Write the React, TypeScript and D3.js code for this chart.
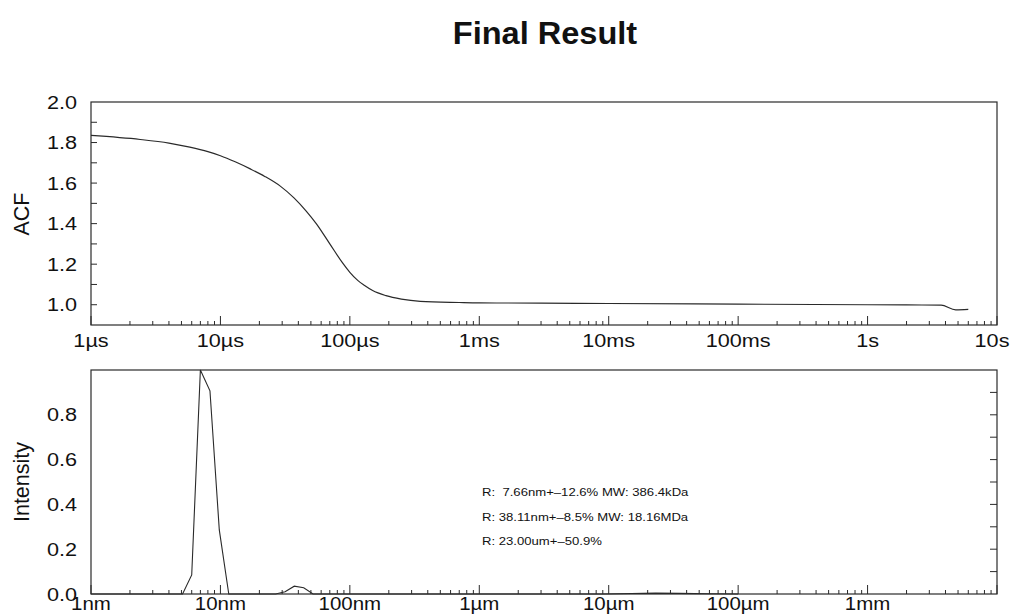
import React from 'react';
import * as d3 from 'd3';

// correlation function, lag time in µs
const ACF_TIME_US = [1, 2.4, 4, 5.8, 8, 10, 13, 17, 22, 29, 37, 46, 55, 70, 87, 100, 115, 130, 150, 190, 250, 350, 700, 1000, 3000, 1e4, 1e5, 1e6, 2e6, 3.7e6, 4.8e6, 6e6];
const ACF_VALUES = [1.835, 1.815, 1.797, 1.777, 1.755, 1.735, 1.705, 1.67, 1.633, 1.585, 1.527, 1.462, 1.4, 1.3, 1.21, 1.16, 1.12, 1.095, 1.07, 1.045, 1.028, 1.017, 1.011, 1.009, 1.008, 1.006, 1.003, 1.0, 0.999, 0.998, 0.975, 0.977];

// size distribution, radius in nm
const SIZE_NM = [1, 4.3, 5.1, 6.0, 7.0, 8.3, 9.8, 11.6, 13.7, 26.7, 31.6, 37.2, 44, 51.9, 61, 9000, 15000, 23000, 35000, 60000, 1e5];
const INTENSITY = [0, 0, 0, 0.085, 1.0, 0.907, 0.286, 0, 0, 0, 0.01, 0.035, 0.028, 0, 0, 0, 0.002, 0.004, 0.003, 0.001, 0];

const TIME_TICK_LABELS = ['1µs', '10µs', '100µs', '1ms', '10ms', '100ms', '1s', '10s'];
const SIZE_TICK_LABELS = ['1nm', '10nm', '100nm', '1µm', '10µm', '100µm', '1mm'];
const ACF_TICKS = [1.0, 1.2, 1.4, 1.6, 1.8, 2.0];
const INTENSITY_TICKS = [0, 0.2, 0.4, 0.6, 0.8];
const ANNOTATIONS = [
  'R:  7.66nm+\u201312.6% MW: 386.4kDa',
  'R: 38.11nm+\u20138.5% MW: 18.16MDa',
  'R: 23.00um+\u201350.9%',
];

const FONT = '"Liberation Sans", Arial, Helvetica, sans-serif';
const INK = '#2a2a2a';
const W = 1011;
const H = 616;
const L = 91;
const R = 997;

function SText({ x, y, size, stretch = 1.17, anchor = 'middle', weight = 'normal', children }: any) {
  return (
    <text
      transform={`translate(${x},${y}) scale(${stretch},1)`}
      fontSize={size}
      fontWeight={weight}
      textAnchor={anchor}
      fontFamily={FONT}
      fill="#111"
      style={{ whiteSpace: 'pre' }}
    >
      {children}
    </text>
  );
}

function logTicks(scale: any) {
  const [a, b] = scale.domain();
  return scale.ticks().filter((t: number) => t >= a && t <= b * 1.0001).map((t: number) => ({
    v: t,
    major: Math.abs(Math.log10(t) - Math.round(Math.log10(t))) < 1e-6,
  }));
}

export default function App() {
  // top panel
  const xT = d3.scaleLog().domain([1, 1e7]).range([L, R]);
  const yT = d3.scaleLinear().domain([0.9, 2.0]).range([325, 102]);
  // bottom panel
  const xB = d3.scaleLog().domain([1, 1e7]).range([L, R]);
  const yB = d3.scaleLinear().domain([0, 1]).range([594, 370]);

  const acfLine = d3
    .line<number>()
    .x((_, i) => xT(ACF_TIME_US[i]))
    .y((d) => yT(d))
    .curve(d3.curveMonotoneX);
  const distLine = d3
    .line<number>()
    .x((_, i) => xB(SIZE_NM[i]))
    .y((d) => yB(d));

  const acfMinor = d3.range(1.0, 2.0, 0.1).map((v) => +v.toFixed(1));
  const intRight = d3.range(1, 10).map((k) => k / 10);

  return (
    <svg width={W} height={H} style={{ position: 'absolute', left: 0, top: 0, background: '#fff' }}>
      <SText x={545} y={44} size={31} weight="bold" stretch={1.05}>Final Result</SText>

      {/* ---- ACF panel ---- */}
      <rect x={L} y={102} width={R - L} height={325 - 102} fill="none" stroke={INK} strokeWidth={1.2} />
      {logTicks(xT).map((t: any) => (
        <line key={'tt' + t.v} x1={xT(t.v)} x2={xT(t.v)} y1={325} y2={325 - (t.major ? 9 : 4)} stroke={INK} strokeWidth={1} />
      ))}
      {acfMinor.map((v) => (
        <line key={'ay' + v} x1={L} x2={L + 6} y1={yT(v)} y2={yT(v)} stroke={INK} strokeWidth={1} />
      ))}
      {ACF_TICKS.map((v) => (
        <SText key={'al' + v} x={77} y={yT(v) + 6.5} size={18.5} anchor="end">{v.toFixed(1)}</SText>
      ))}
      {TIME_TICK_LABELS.map((s, i) => (
        <SText key={s} x={Math.min(xT(Math.pow(10, i)), 992)} y={347} size={18.5}>{s}</SText>
      ))}
      <text transform="translate(29,214) rotate(-90)" fontSize={21.5} fontFamily={FONT} textAnchor="middle" fill="#111">ACF</text>
      <path d={acfLine(ACF_VALUES) || ''} fill="none" stroke={INK} strokeWidth={1.2} />

      {/* ---- size distribution panel ---- */}
      <rect x={L} y={370} width={R - L} height={594 - 370} fill="none" stroke={INK} strokeWidth={1.2} />
      {logTicks(xB).map((t: any) => (
        <line key={'bt' + t.v} x1={xB(t.v)} x2={xB(t.v)} y1={594} y2={594 - (t.major ? 9 : 4)} stroke={INK} strokeWidth={1} />
      ))}
      {intRight.map((v) => (
        <line key={'br' + v} x1={R} x2={R - 7} y1={yB(v)} y2={yB(v)} stroke={INK} strokeWidth={1} />
      ))}
      {INTENSITY_TICKS.map((v) => (
        <SText key={'il' + v} x={77} y={yB(v) + 6.5} size={18.5} anchor="end">{v.toFixed(1)}</SText>
      ))}
      {SIZE_TICK_LABELS.map((s, i) => (
        <SText key={s} x={xB(Math.pow(10, i))} y={610} size={17.5}>{s}</SText>
      ))}
      <text transform="translate(29,482) rotate(-90)" fontSize={21.5} fontFamily={FONT} textAnchor="middle" fill="#111">Intensity</text>
      <path d={distLine(INTENSITY) || ''} fill="none" stroke={INK} strokeWidth={1.1} />
      {ANNOTATIONS.map((s, i) => (
        <SText key={s} x={482} y={496 + i * 24.5} size={10.5} stretch={1.25} anchor="start">{s}</SText>
      ))}
    </svg>
  );
}
